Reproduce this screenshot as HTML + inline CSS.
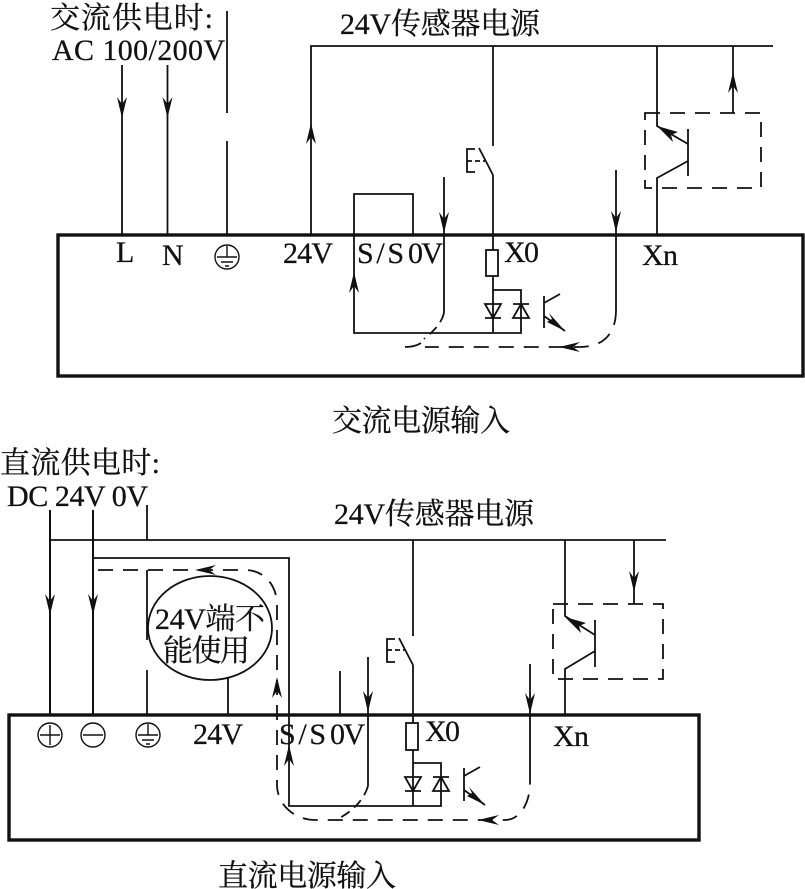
<!DOCTYPE html>
<html><head><meta charset="utf-8"><style>
html,body{margin:0;padding:0;background:#fff}
svg{display:block}
text{font-family:"Liberation Serif","Noto Serif CJK SC",serif;fill:#111;font-size:30px;stroke:#111;stroke-width:.25}
</style></head><body>
<svg width="805" height="889" viewBox="0 0 805 889" xmlns="http://www.w3.org/2000/svg">
<defs>
<path id="d" d="M0 0L-5-21L0-14L5-21Z" fill="#111"/>
<path id="u" d="M0 0L-5 21L0 14L5 21Z" fill="#111"/>
<path id="l" d="M0 0L21-5L14 0L21 5Z" fill="#111"/>
<g id="gnd" fill="none" stroke="#111" stroke-width="1.4"><circle r="12"/><path d="M0-11V0M-10 0H10M-6 5H6M-2 9H2"/></g>
</defs>
<g fill="none" stroke="#111" stroke-width="1.8">
<!-- TOP -->
<rect x="58" y="235" width="745" height="141" stroke-width="3.4"/>
<path d="M122 65V235M167.5 65V235M227 11V113M227 141V235M311 235V46H773M493 46V146M493 175V250M479 148L493 175"/>
<path d="M475 149H467V172H475"/>
<path d="M467 161H485" stroke-dasharray="5 3"/>
<rect x="486" y="250" width="12" height="26"/>
<path d="M493 276V333M493 290H521V333H354V194H413V235"/>
<path d="M485 304H501L493 318ZM485 318H501M513 318H529L521 304ZM513 304H529"/>
<path d="M544 296V328M544 303L560 294M544 316L565 331"/>
<path d="M444 177V313M616 170V310M657 46V126L688 144M688 129V176M688 161L657 178V235M733 46V113"/>
<rect x="645" y="113" width="116" height="75" stroke-dasharray="15 10"/>
<path d="M444 313C441 325 432 332 424 339" stroke-dasharray="10 6"/>
<path d="M405 347C413 347 418 345 421 343"/>
<path d="M616 310C616 335 602 347 580 347H425" stroke-dasharray="15 10"/>
<!-- BOTTOM -->
<rect x="9" y="715" width="690" height="125" stroke-width="3.4"/>
<path d="M50 510V715M93 510V715" stroke-width="2"/>
<path d="M147 505V540M147 570V640M147 670V715M50 540H666M93 558H289V806H441V763H413M228 678V715M340 671V715M413 540V636M413 665V723M413 750V806M399 638L413 665"/>
<path d="M395 639H387V662H395"/>
<path d="M387 650H405" stroke-dasharray="5 3"/>
<rect x="406" y="723" width="12" height="27"/>
<path d="M405 777H421L413 791ZM405 791H421M433 791H449L441 777ZM433 777H449"/>
<path d="M464 768V801M464 776L480 767M464 790L485 805"/>
<ellipse cx="210" cy="628" rx="62" ry="52"/>
<path d="M368 657V786M530 664V783M565 540V616L595 635M595 620V667M595 651L565 669V715M634 540V604"/>
<rect x="553" y="604" width="110" height="75" stroke-dasharray="15 10"/>
<path d="M98 570H245C264 570 277 585 277 605V785C277 805 295 820 315 820H505C520 820 530 803 530 783" stroke-dasharray="15 10"/>
<path d="M368 786C364 800 352 812 336 820" stroke-dasharray="10 6"/>
</g>
<use href="#d" x="122" y="118"/><use href="#d" x="167.5" y="118"/>
<use href="#u" x="311" y="123"/><use href="#u" x="354" y="272"/>
<use href="#d" x="444" y="233"/><use href="#d" x="616" y="232"/>
<use href="#u" x="733" y="72"/>
<use href="#l" x="559" y="347"/>
<path d="M657 126L678 132L671 135L673 142Z" fill="#111"/>
<path d="M565 331L547 322L552 319L549 313Z" fill="#111"/>
<use href="#gnd" x="227" y="257"/>
<use href="#d" x="50" y="615"/><use href="#d" x="93" y="615"/>
<use href="#l" x="195" y="570"/>
<use href="#u" x="277" y="677"/><use href="#u" x="289" y="745"/>
<use href="#d" x="368" y="712"/><use href="#d" x="530" y="714"/>
<use href="#d" x="634" y="592"/>
<use href="#l" x="478" y="820"/>
<path d="M565 617L586 623L579 626L581 633Z" fill="#111"/>
<path d="M485 805L467 796L472 793L469 787Z" fill="#111"/>
<use href="#gnd" x="148" y="735"/>
<g fill="none" stroke="#111" stroke-width="1.4"><circle cx="50" cy="735" r="12"/><path d="M40 735H60M50 725V745"/><circle cx="93" cy="735" r="12"/><path d="M83 735H103"/></g>
<!-- TEXT -->
<text x="50" y="28" textLength="163">交流供电时:</text>
<text x="52" y="60" textLength="173">AC 100/200V</text>
<text x="340" y="34" textLength="200">24V传感器电源</text>
<text x="116" y="262">L</text>
<text x="162" y="265">N</text>
<text x="283" y="263" textLength="50">24V</text>
<text x="357" y="263" textLength="47">S/S</text>
<text x="408" y="263" textLength="35">0V</text>
<text x="504" y="262" textLength="35">X0</text>
<text x="642" y="265" textLength="36">Xn</text>
<text x="332" y="431" textLength="178">交流电源输入</text>
<text x="0" y="473" textLength="160">直流供电时:</text>
<text x="7" y="506" textLength="141">DC 24V 0V</text>
<text x="334" y="524" textLength="200">24V传感器电源</text>
<text x="155" y="629" textLength="110">24V端不</text>
<text x="163" y="661" textLength="87">能使用</text>
<text x="193" y="744" textLength="50">24V</text>
<text x="279" y="744" textLength="47">S/S</text>
<text x="330" y="744" textLength="35">0V</text>
<text x="425" y="741" textLength="35">X0</text>
<text x="553" y="746" textLength="36">Xn</text>
<text x="218" y="886" textLength="178">直流电源输入</text>
</svg>
</body></html>
